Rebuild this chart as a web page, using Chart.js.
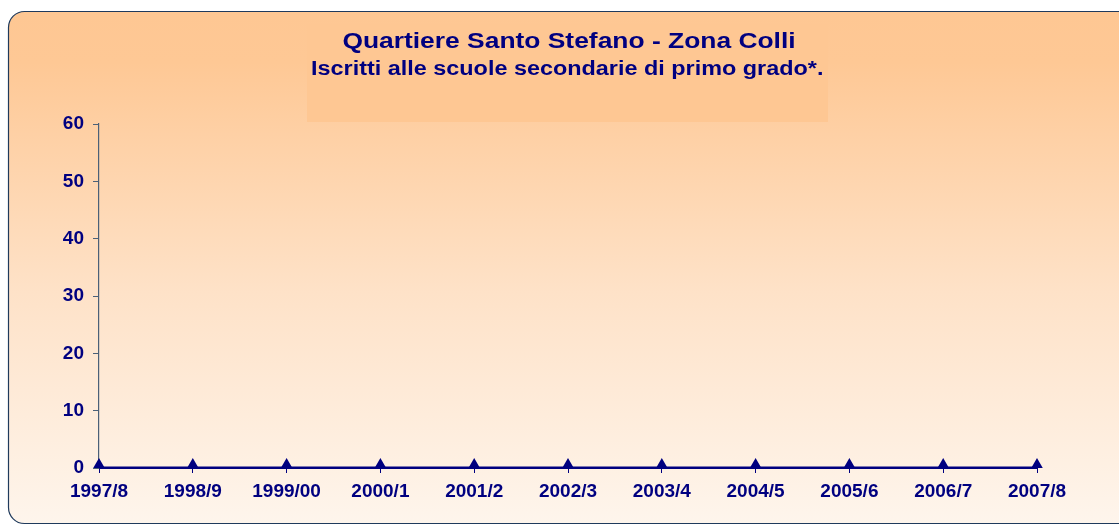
<!DOCTYPE html>
<html>
<head>
    <script src="https://cdn.jsdelivr.net/npm/chart.js@4.4.1/dist/chart.umd.min.js"></script>
    <title>Quartiere Santo Stefano - Zona Colli</title>
    <style>
        html, body { margin: 0; padding: 0; background: #ffffff; overflow: hidden; }
        #graph-area { width: 1119px; height: 526px; }
    </style>
</head>
<body>
<div id="graph-area">
    <canvas id="myChart"></canvas>
</div>

<script>
    // data
    var anni = ['1997/8', '1998/9', '1999/00', '2000/1', '2001/2', '2002/3', '2003/4', '2004/5', '2005/6', '2006/7', '2007/8'];
    var iscritti = [0, 0, 0, 0, 0, 0, 0, 0, 0, 0, 0];
    var yTicks = [0, 10, 20, 30, 40, 50, 60];

    var titolo = 'Quartiere Santo Stefano - Zona Colli';
    var sottotitolo = 'Iscritti alle scuole secondarie di primo grado*.';

    var navy = '#000080';
    var fontFam = '"Liberation Sans", Arial, sans-serif';

    // rounded gradient panel (its right side runs off the picture), title box and the two title lines
    var sfondo = {
        id: 'sfondo',
        beforeDraw: function(chart) {
            var ctx = chart.ctx;
            var w = chart.width;
            ctx.save();
            var grad = ctx.createLinearGradient(0, 11, 0, 524);
            grad.addColorStop(0, '#fec793');
            grad.addColorStop(0.1, '#fec895');
            grad.addColorStop(0.55, '#fee2c8');
            grad.addColorStop(1, '#fef5ec');
            var l = 8.5, t = 11.5, b = 523.5, r = 16;
            ctx.beginPath();
            ctx.moveTo(w + 5, t);
            ctx.lineTo(l + r, t);
            ctx.arcTo(l, t, l, t + r, r);
            ctx.lineTo(l, b - r);
            ctx.arcTo(l, b, l + r, b, r);
            ctx.lineTo(w + 5, b);
            ctx.fillStyle = grad;
            ctx.fill();
            ctx.lineWidth = 1.2;
            ctx.strokeStyle = '#1f3a5c';
            ctx.stroke();
            // title box
            ctx.fillStyle = '#fec793';
            ctx.fillRect(307, 24, 521, 98);

            // titles, a bit wider than the plain font like in the original
            ctx.fillStyle = navy;
            ctx.textAlign = 'center';
            ctx.textBaseline = 'alphabetic';
            ctx.translate(569, 0);
            ctx.scale(1.2, 1);
            ctx.font = 'bold 22px ' + fontFam;
            ctx.fillText(titolo, 0, 48);
            ctx.font = 'bold 19.5px ' + fontFam;
            ctx.fillText(sottotitolo, -1.5, 75);
            ctx.restore();
        }
    };

    var ctx = document.getElementById('myChart').getContext('2d');
    var myChart = new Chart(ctx, {
        type: 'line',
        data: {
            labels: anni,
            datasets: [
                {
                    label: 'Iscritti',
                    data: iscritti,
                    borderColor: navy,
                    backgroundColor: navy,
                    borderWidth: 3,
                    pointStyle: 'triangle',
                    pointRadius: 7,
                    pointHoverRadius: 7,
                    tension: 0
                },
            ]
        },
        options: {
            responsive: true,
            maintainAspectRatio: false,
            animation: false,
            layout: {
                padding: { left: 0, right: 82, top: 124, bottom: 0 }
            },
            scales: {
                x: {
                    offset: false,
                    grid: { drawOnChartArea: false, drawTicks: true, tickLength: 5, color: navy },
                    border: { display: true, color: navy, width: 2 },
                    ticks: {
                        color: navy,
                        padding: 7,
                        maxRotation: 0,
                        autoSkip: false,
                        font: { family: fontFam, size: 19, weight: 'bold' }
                    },
                    afterFit: function(scale) { scale.height = 58; }
                },
                y: {
                    min: 0,
                    max: 60,
                    afterBuildTicks: function(scale) {
                        scale.ticks = yTicks.map(function(v) { return { value: v }; });
                    },
                    grid: { drawOnChartArea: false, drawTicks: true, tickLength: 6, color: '#4a6078' },
                    border: { display: true, color: '#4a6078', width: 1.2 },
                    ticks: {
                        color: navy,
                        padding: 9,
                        font: { family: fontFam, size: 19, weight: 'bold' }
                    },
                    afterFit: function(scale) { scale.width = 99; }
                }
            },
            plugins: {
                legend: { display: false },
                tooltip: { enabled: false },
                title: { display: false }
            }
        },
        plugins: [sfondo]
    });
</script>
</body>
</html>
